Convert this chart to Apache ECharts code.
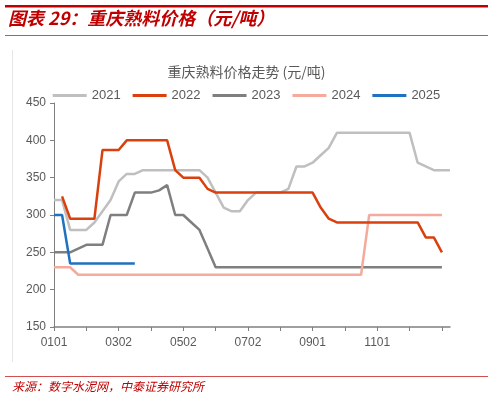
<!DOCTYPE html><html><head><meta charset="utf-8"><script src="https://cdn.jsdelivr.net/npm/echarts@6/dist/echarts.min.js"></script>
<style>body{margin:0;background:#fff}#c{width:493px;height:400px}</style></head><body><div id="c"></div><script>
const months=['01','02','03','04','05','06','07','08','09','10','11','12'];
const dayLabels=['01','08','16','24'];
const categories=[];
for(const m of months){for(const d of dayLabels){categories.push(m+d);}}
categories[4]='0201';categories[8]='0302';categories[16]='0502';categories[24]='0702';categories[32]='0901';categories[40]='1101';
categories.push('1224','1231');
const labelIdx=[0,8,16,24,32,40];
const yTicks={min:150,max:450,interval:50};
const legendNames=['2021','2022','2023','2024','2025'];
const s2021=[320,320,280,280,280,290,305,320,345,355,355,360,360,360,360,360,360,360,360,350,330,310,305,305,320,330,330,330,330,335,365,365,370,380,390,410,410,410,410,410,410,410,410,410,410,370,365,360,360,360];
const s2022=[null,325,295,295,295,295,387,387,387,400,400,400,400,400,400,360,350,350,350,335,330,330,330,330,330,330,330,330,330,330,330,330,330,310,295,290,290,290,290,290,290,290,290,290,290,290,270,270,250,null];
const s2023=[250,250,250,255,260,260,260,300,300,300,330,330,330,333,340,300,300,290,280,255,230,230,230,230,230,230,230,230,230,230,230,230,230,230,230,230,230,230,230,230,230,230,230,230,230,230,230,230,230,null];
const s2024=[230,230,230,220,220,220,220,220,220,220,220,220,220,220,220,220,220,220,220,220,220,220,220,220,220,220,220,220,220,220,220,220,220,220,220,220,220,220,220,300,300,300,300,300,300,300,300,300,300,null];
const s2025=[300,300,235,235,235,235,235,235,235,235,235];
const colors=['#bfbfbf','#d9400e','#7f7f7f','#f4aa9c','#1f72c0'];
const data=[s2021,s2022,s2023,s2024,s2025];
const chart=echarts.init(document.getElementById('c'));
chart.setOption({
animation:false,
graphic:[
{type:'rect',shape:{x:5,y:5,width:483,height:2.5},style:{fill:'#c00000'}},
{type:'text',left:8,top:9,style:{text:'图表 29：重庆熟料价格（元/吨）',font:'italic bold 18px "Noto Sans CJK SC"',fill:'#c00000'}},
{type:'rect',shape:{x:5,y:35,width:483,height:1},style:{fill:'#d05050'}},
{type:'rect',shape:{x:12,y:50,width:0.8,height:312},style:{fill:'#e0e0e0'}},
{type:'rect',shape:{x:5,y:376,width:483,height:1},style:{fill:'#d05050'}},
{type:'text',left:12,top:380,style:{text:'来源：数字水泥网，中泰证券研究所',font:'italic 12px "Noto Sans CJK SC"',fill:'#c00000'}}
],
title:{text:'重庆熟料价格走势 (元/吨)',left:'center',top:60,textStyle:{fontSize:14,fontWeight:'normal',color:'#595959',fontFamily:'Noto Sans CJK SC'}},
legend:{top:84,left:'center',itemWidth:34,itemHeight:3,itemGap:12,icon:'rect',data:legendNames,textStyle:{color:'#595959',fontSize:13,fontFamily:'Liberation Sans'}},
grid:{left:54,right:43,top:103,bottom:73},
xAxis:{type:'category',data:categories,boundaryGap:false,
axisLine:{lineStyle:{color:'#808080',width:1.5}},
axisTick:{interval:(i)=>i%4===0,length:4,lineStyle:{color:'#808080'}},
axisLabel:{interval:(i)=>labelIdx.includes(i),color:'#595959',fontSize:12,fontFamily:'Liberation Sans',margin:10}},
yAxis:{type:'value',min:yTicks.min,max:yTicks.max,interval:yTicks.interval,
axisLine:{show:true,lineStyle:{color:'#808080'}},axisTick:{show:true,length:4,lineStyle:{color:'#808080'}},
splitLine:{show:false},axisLabel:{color:'#595959',fontSize:12,fontFamily:'Liberation Sans',margin:8}},
series:legendNames.map((n,k)=>({name:n,type:'line',data:data[k],symbol:'none',connectNulls:false,
lineStyle:{color:colors[k],width:2.5},itemStyle:{color:colors[k]},z:[1,5,2,3,4][k]}))
});
</script></body></html>
